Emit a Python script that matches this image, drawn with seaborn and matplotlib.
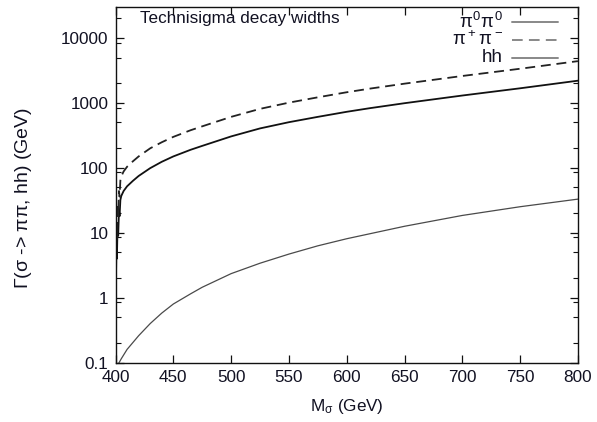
import numpy as np
import pandas as pd
import matplotlib
matplotlib.use("Agg")
import matplotlib.pyplot as plt
import seaborn as sns
from matplotlib.ticker import FixedLocator, NullFormatter

# Technisigma mass (GeV) for the pion channels
mass = [400.2, 400.8, 401.2, 401.8, 402.3, 403.0, 403.5, 404.2, 405, 407, 410,
        415, 420, 430, 440, 450, 465, 475, 500, 525, 550, 575, 600, 620, 650,
        700, 750, 800]
# Partial widths (GeV)
width_pi0pi0 = [1.2, 6, 4, 14, 9, 22, 18, 32, 37, 44, 52, 63, 75, 99, 124,
                150, 190, 218, 305, 405, 505, 610, 730, 830, 990, 1300, 1680,
                2200]
width_pipm = [2.5, 12, 8, 28, 18, 44, 36, 64, 74, 88, 104, 126, 150, 200, 248,
              300, 380, 436, 610, 810, 1010, 1220, 1460, 1660, 1980, 2600,
              3360, 4400]

mass_hh = [400, 405, 410, 420, 430, 440, 450, 465, 475, 500, 525, 550, 575,
           600, 650, 700, 750, 800]
width_hh = [0.08, 0.115, 0.16, 0.26, 0.40, 0.58, 0.80, 1.15, 1.45, 2.35, 3.4,
            4.7, 6.3, 8.1, 12.6, 18.5, 25.2, 33]

legend_labels = [r"$\pi^0\pi^0$", r"$\pi^+\pi^-$", "hh"]
x_ticks = [400, 450, 500, 550, 600, 650, 700, 750, 800]
y_ticks = [0.1, 1, 10, 100, 1000, 10000]
y_tick_labels = ["0.1", "1", "10", "100", "1000", "10000"]

sns.set_style("ticks")
plt.rcParams["font.family"] = ["Liberation Sans", "DejaVu Sans"]
plt.rcParams["mathtext.fontset"] = "custom"
plt.rcParams["mathtext.rm"] = "Liberation Sans"
plt.rcParams["mathtext.it"] = "Liberation Sans"
plt.rcParams["mathtext.sf"] = "Liberation Sans"

FS = 12.3
ink = "#111122"

fig = plt.figure(figsize=(5.97, 4.22), dpi=100)
ax = fig.add_axes([0.1935, 0.1406, 0.7745, 0.8428])

df_pi = pd.DataFrame({"mass": mass, "pi0pi0": width_pi0pi0, "pipm": width_pipm})
df_hh = pd.DataFrame({"mass": mass_hh, "hh": width_hh})

sns.lineplot(data=df_pi, x="mass", y="pi0pi0", ax=ax, color="#111111",
             linewidth=1.3, estimator=None, sort=False)
sns.lineplot(data=df_pi, x="mass", y="pipm", ax=ax, color="#222222",
             linewidth=1.3, estimator=None, sort=False)
ax.lines[-1].set_dashes((5.5, 3.2))
sns.lineplot(data=df_hh, x="mass", y="hh", ax=ax, color="#4a4a4a",
             linewidth=0.9, estimator=None, sort=False)

ax.set_yscale("log")
ax.set_xlim(400, 800)
ax.set_ylim(0.1, 3.0e4)

ax.set_xticks(x_ticks)
ax.set_xticklabels([str(v) for v in x_ticks])
ax.yaxis.set_major_locator(FixedLocator(y_ticks))
ax.set_yticklabels(y_tick_labels)
minor_y = [m * 10.0 ** e for e in range(-1, 5) for m in (2, 5, 8.5)]
ax.yaxis.set_minor_locator(FixedLocator(minor_y))
ax.yaxis.set_minor_formatter(NullFormatter())
ax.xaxis.set_minor_locator(FixedLocator([]))

ax.tick_params(axis="both", which="major", direction="in", length=6, width=0.9,
               top=True, right=True, labelsize=FS, colors=ink, pad=5)
ax.tick_params(axis="both", which="major", color="#111111")
ax.tick_params(axis="y", which="minor", direction="in", length=3.5, width=0.8,
               right=True, left=True, color="#111111")
for side in ax.spines.values():
    side.set_linewidth(1.0)
    side.set_color("#111111")

ax.set_xlabel(r"M$_\sigma$ (GeV)", fontsize=FS, labelpad=9, color=ink)
ax.set_ylabel(r"$\Gamma$($\sigma$ -> $\pi\pi$, hh) (GeV)", fontsize=14,
              color=ink)
ax.yaxis.set_label_coords(-0.177, 0.462)

ax.text(0.053, 0.969, "Technisigma decay widths", transform=ax.transAxes,
        fontsize=FS, ha="left", va="center", color=ink)

# Key in the upper right corner: label then line sample
key_y = [0.958, 0.907, 0.858]
key_styles = [dict(ls="-"), dict(ls=(0, (5.5, 3.2))), dict(ls="-")]
for lab, yk, st in zip(legend_labels, key_y, key_styles):
    ax.text(0.838, yk, lab, transform=ax.transAxes, fontsize=13.5,
            ha="right", va="center", color=ink)
    ax.plot([0.857, 0.958], [yk, yk], transform=ax.transAxes,
            color="#888888", linewidth=1.4, **st)

fig.savefig("out.png", dpi=100)
